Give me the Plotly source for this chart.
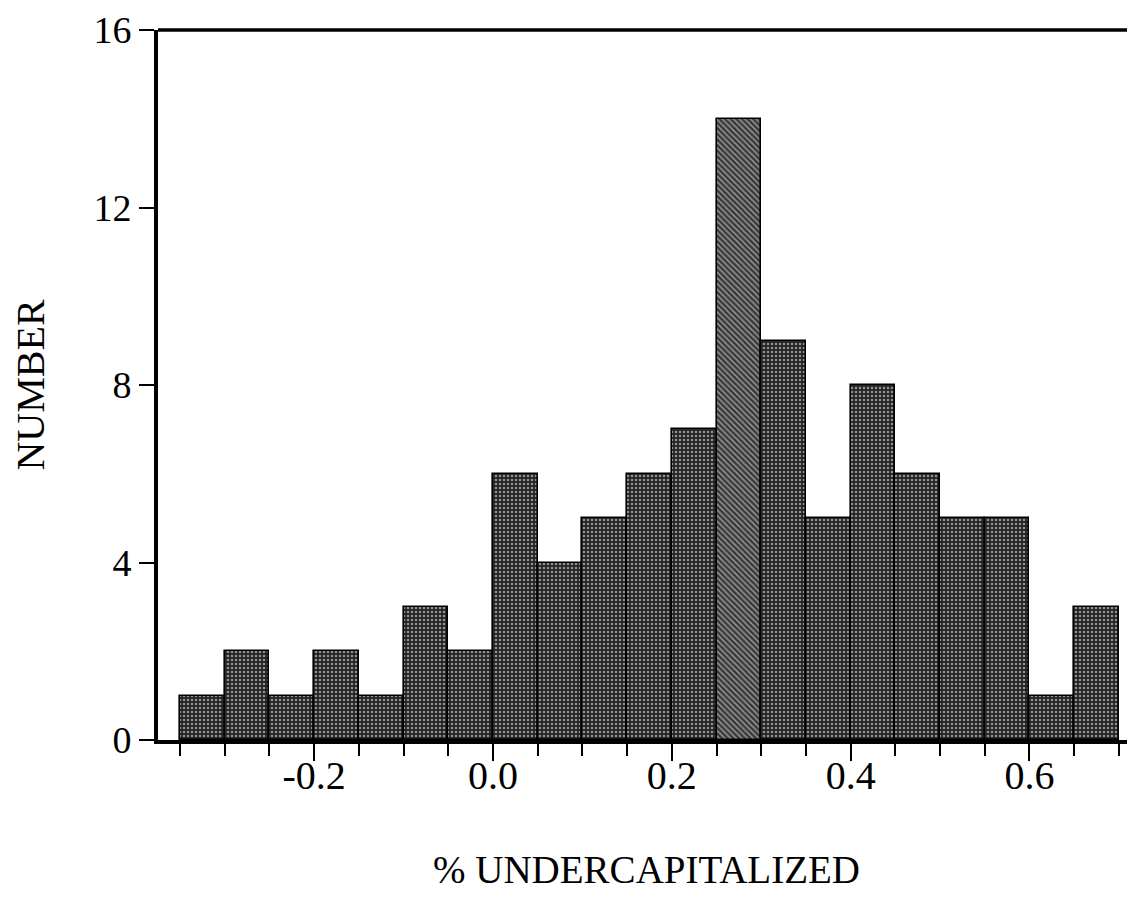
import plotly.graph_objects as go

# ---- data ----
bin_starts = [-0.35, -0.30, -0.25, -0.20, -0.15, -0.10, -0.05, 0.00, 0.05, 0.10,
              0.15, 0.20, 0.25, 0.30, 0.35, 0.40, 0.45, 0.50, 0.55, 0.60, 0.65]
counts = [1, 2, 1, 2, 1, 3, 2, 6, 4, 5, 6, 7, 14, 9, 5, 8, 6, 5, 5, 1, 3]
bin_width = 0.05

x_tick_vals = [-0.2, 0.0, 0.2, 0.4, 0.6]
x_tick_text = ["-0.2", "0.0", "0.2", "0.4", "0.6"]
y_tick_vals = [0, 4, 8, 12, 16]

x_title = "% UNDERCAPITALIZED"
y_title = "NUMBER"

centers = [round(s + bin_width / 2, 4) for s in bin_starts]
edges = [round(s, 4) for s in bin_starts] + [round(bin_starts[-1] + bin_width, 4)]

peak = max(counts)
shapes_pat = ["\\" if c == peak else "." for c in counts]
fg_pat = ["#d8d8d8" if c == peak else "#a8a8a8" for c in counts]
bg_col = ["#3a3a3a" if c == peak else "#222222" for c in counts]

font_family = "Liberation Serif, Times New Roman, serif"

fig = go.Figure()
fig.add_trace(go.Bar(
    x=centers,
    y=counts,
    width=bin_width,
    marker=dict(
        color=bg_col,
        line=dict(color="black", width=1.6),
        pattern=dict(shape=shapes_pat, fgcolor=fg_pat, size=4, solidity=0.35),
    ),
    showlegend=False,
    hoverinfo="x+y",
))

fig.update_layout(
    width=1127,
    height=901,
    margin=dict(l=150, r=0, t=22, b=169),
    paper_bgcolor="white",
    plot_bgcolor="white",
    bargap=0,
    font=dict(family=font_family, color="black", size=38),
    xaxis=dict(
        range=[-0.3746, 0.718],
        tickmode="array",
        tickvals=x_tick_vals,
        ticktext=x_tick_text,
        ticks="outside",
        ticklen=17,
        tickwidth=2,
        tickcolor="black",
        ticklabelstandoff=-20,
        showline=True,
        linecolor="black",
        linewidth=4,
        showgrid=False,
        zeroline=False,
        tickfont=dict(size=40, family=font_family, color="black"),
        minor=dict(tickmode="array", tickvals=edges, ticks="outside",
                   ticklen=12, tickwidth=2, tickcolor="black", showgrid=False),
        title=dict(text=x_title, font=dict(size=39, family=font_family, color="black"),
                   standoff=60),
    ),
    yaxis=dict(
        range=[0, 16],
        tickmode="array",
        tickvals=y_tick_vals,
        ticks="outside",
        ticklen=15,
        tickwidth=2,
        tickcolor="black",
        showline=True,
        linecolor="black",
        linewidth=4,
        showgrid=False,
        zeroline=False,
        tickfont=dict(size=38, family=font_family, color="black"),
        title=dict(text=y_title, font=dict(size=40, family=font_family, color="black"),
                   standoff=45),
    ),
    shapes=[dict(type="line", xref="paper", yref="paper", x0=0, x1=1, y0=1, y1=1,
                 line=dict(color="black", width=3.5))],
)

fig.write_html("out.html")
